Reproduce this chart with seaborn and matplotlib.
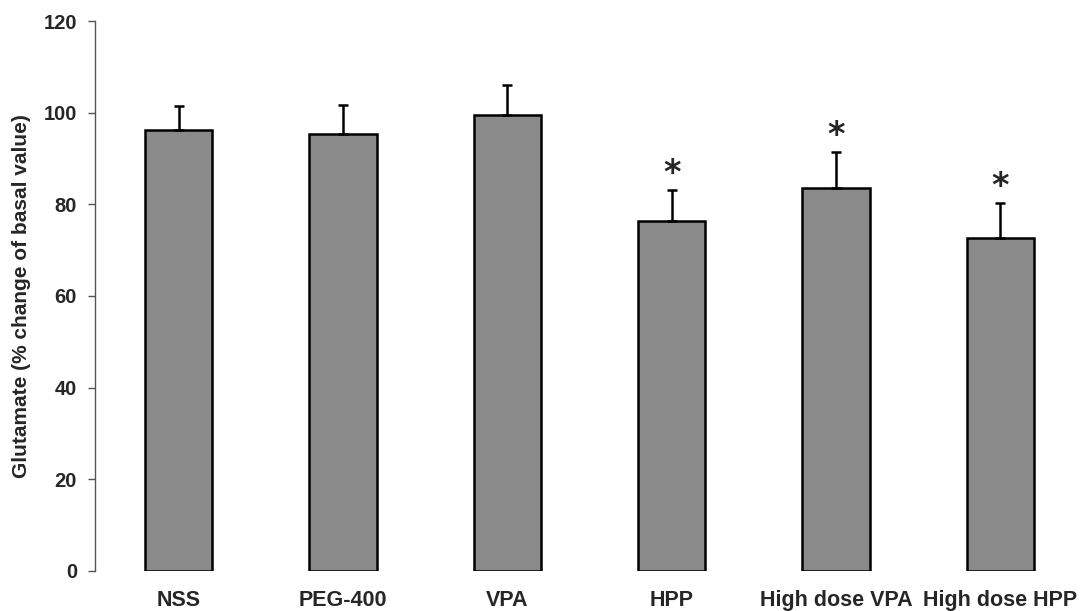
import matplotlib
matplotlib.use("Agg")
import matplotlib.pyplot as plt
import seaborn as sns
import pandas as pd

groups = ["NSS", "PEG-400", "VPA", "HPP", "High dose VPA", "High dose HPP"]
means = [96.3, 95.4, 99.4, 76.4, 83.6, 72.6]
sem = [5.1, 6.3, 6.7, 6.8, 7.8, 7.8]
significant = [False, False, False, True, True, True]
yticks = [0, 20, 40, 60, 80, 100, 120]

sns.set_theme(style="white")
plt.rcParams["font.family"] = ["Liberation Sans", "DejaVu Sans"]

df = pd.DataFrame({"group": groups, "value": means})

fig = plt.figure(figsize=(10.84, 6.11), dpi=100)
ax = fig.add_axes([0.0876, 0.0655, 0.9124, 0.9001])

sns.barplot(data=df, x="group", y="value", order=groups, color="#8a8a8a",
            saturation=1, width=0.41, edgecolor="black", linewidth=1.8,
            errorbar=None, ax=ax)

xs = list(range(len(groups)))
ax.errorbar(xs, means, yerr=[[0] * len(sem), sem], fmt="none", ecolor="black",
            elinewidth=1.8, capsize=3.5, capthick=1.8, zorder=1)

for x, m, s, sig in zip(xs, means, sem, significant):
    if sig:
        ax.annotate("*", (x, m + s), xytext=(0, 0), textcoords="offset points",
                    ha="center", va="bottom", fontsize=24, fontweight="bold",
                    family=["DejaVu Sans"])

ax.set_ylim(0, 120)
ax.set_xlim(-0.51, 5.51)
ax.set_yticks(yticks)
ax.set_yticklabels([str(t) for t in yticks], fontsize=14.5, fontweight="bold")
ax.set_xticks(xs)
ax.set_xticklabels(groups, fontsize=15.5, fontweight="bold")
ax.set_xlabel("")
ax.set_ylabel("Glutamate (% change of basal value)", fontsize=15, fontweight="bold", labelpad=9)

for side in ["top", "right", "bottom"]:
    ax.spines[side].set_visible(False)
ax.spines["left"].set_color("#555555")
ax.spines["left"].set_linewidth(1.0)
ax.tick_params(axis="y", direction="out", length=5, width=1, color="#555555", pad=8, left=True)
ax.tick_params(axis="x", length=0, pad=14)

fig.savefig("out.png", dpi=100)
